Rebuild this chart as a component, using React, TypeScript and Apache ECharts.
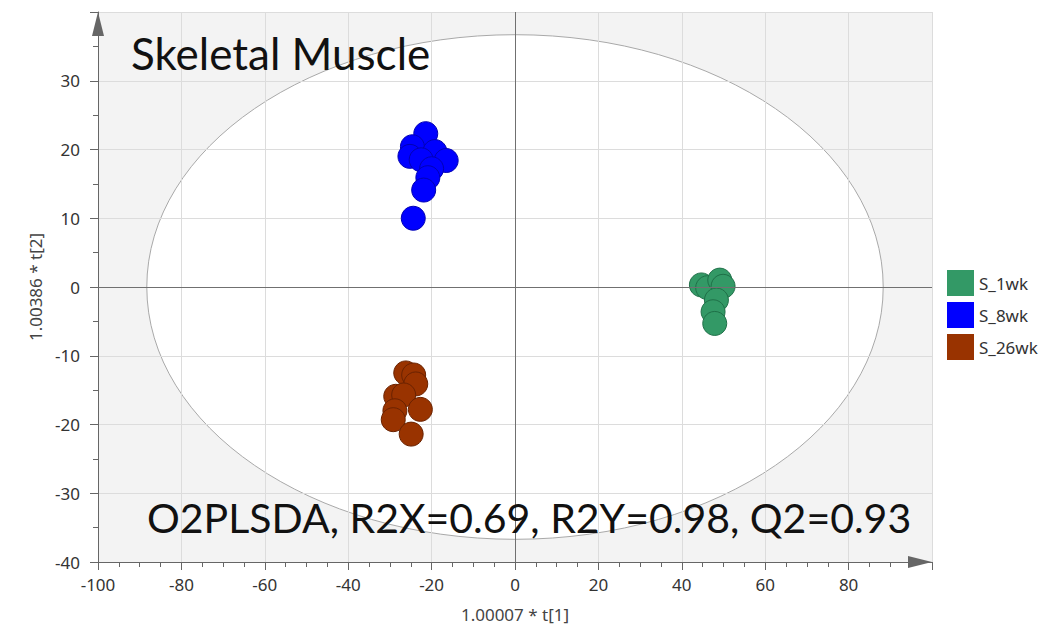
import React, { useEffect, useRef } from "react";
import * as echarts from "echarts";

// Score scatter for the skeletal muscle O2PLS-DA model
const groupNames = ["S_1wk", "S_8wk", "S_26wk"];
const groupColors = ["#339966", "#0000ff", "#993300"];
const groupBorders = ["#1f7048", "#0000b4", "#6a2200"];

const s1wk: number[][] = [
  [44.7, 0.3],
  [46.2, -0.1],
  [49.1, 1.0],
  [49.9, 0.1],
  [48.3, -1.9],
  [47.5, -3.6],
  [47.9, -5.3],
];

const s8wk: number[][] = [
  [-21.4, 22.3],
  [-24.6, 20.4],
  [-25.2, 19.0],
  [-19.2, 19.7],
  [-16.5, 18.4],
  [-22.5, 18.5],
  [-20.0, 17.2],
  [-20.9, 15.9],
  [-21.9, 14.1],
  [-24.4, 10.0],
];

const s26wk: number[][] = [
  [-26.2, -12.5],
  [-24.3, -12.8],
  [-23.8, -14.1],
  [-28.6, -15.9],
  [-26.7, -15.7],
  [-28.8, -18.0],
  [-29.2, -19.3],
  [-22.7, -17.8],
  [-24.9, -21.4],
];

// Hotelling's T2 (95%) ellipse semi-axes, in score units
const ellipseCenter = [0, 0];
const ellipseRadii = [88.3, 36.7];

const xRange = [-100, 100];
const yRange = [-40, 40];

const titleText = "Skeletal Muscle";
const statsText = "O2PLSDA, R2X=0.69, R2Y=0.98, Q2=0.93";
const xName = "1.00007 * t[1]";
const yName = "1.00386 * t[2]";

const labelFont = "'Noto Sans', 'Open Sans', sans-serif";
const bigFont = "Lato, 'Noto Sans', sans-serif";

export default function App() {
  const ref = useRef<HTMLDivElement>(null);

  useEffect(() => {
    if (!ref.current) return;
    const chart = echarts.init(ref.current, undefined, { renderer: "svg" });

    const axisLineColor = "#666666";
    const seriesData = [s1wk, s8wk, s26wk];

    chart.setOption({
      animation: false,
      backgroundColor: "#ffffff",
      grid: { left: 98, right: 113, top: 12, bottom: 66 },
      legend: {
        data: groupNames.map((n) => ({ name: n, icon: "rect" })),
        orient: "vertical",
        left: 947,
        top: 270,
        padding: 0,
        itemWidth: 27,
        itemHeight: 26,
        itemGap: 6,
        itemStyle: { borderWidth: 0 },
        textStyle: { fontFamily: labelFont, fontSize: 17, color: "#333333" },
      },
      xAxis: {
        type: "value",
        min: xRange[0],
        max: xRange[1],
        interval: 20,
        name: xName,
        nameLocation: "middle",
        nameGap: 44,
        nameTextStyle: { fontFamily: labelFont, fontSize: 17, color: "#444444" },
        axisLine: {
          onZero: false,
          lineStyle: { color: axisLineColor, width: 1 },
          symbol: ["none", "triangle"],
          symbolSize: [12, 24],
          symbolOffset: [0, -12],
        },
        axisTick: { length: 8, lineStyle: { color: axisLineColor } },
        minorTick: { show: true, splitNumber: 4, length: 5, lineStyle: { color: axisLineColor } },
        axisLabel: {
          showMaxLabel: false,
          margin: 14,
          fontFamily: labelFont,
          fontSize: 17,
          color: "#333333",
        },
        splitLine: { lineStyle: { color: "#dcdcdc", width: 1 } },
      },
      yAxis: {
        type: "value",
        min: yRange[0],
        max: yRange[1],
        interval: 10,
        name: yName,
        nameLocation: "middle",
        nameGap: 52,
        nameRotate: 90,
        nameTextStyle: { fontFamily: labelFont, fontSize: 17, color: "#444444" },
        axisLine: {
          onZero: false,
          lineStyle: { color: axisLineColor, width: 1 },
          symbol: ["none", "triangle"],
          symbolSize: [12, 24],
          symbolOffset: [0, -12],
        },
        axisTick: { length: 8, lineStyle: { color: axisLineColor } },
        minorTick: { show: true, splitNumber: 2, length: 5, lineStyle: { color: axisLineColor } },
        axisLabel: {
          showMaxLabel: false,
          margin: 18,
          fontFamily: labelFont,
          fontSize: 17,
          color: "#333333",
        },
        splitLine: { lineStyle: { color: "#dcdcdc", width: 1 } },
      },
      graphic: [
        {
          type: "text",
          x: 131,
          y: 53,
          z: 100,
          style: {
            text: titleText,
            font: `44px ${bigFont}`,
            fill: "#111111",
            textAlign: "left",
            textVerticalAlign: "middle",
          },
        },
        {
          type: "text",
          x: 147,
          y: 517,
          z: 100,
          style: {
            text: statsText,
            font: `41px ${bigFont}`,
            fill: "#111111",
            textAlign: "left",
            textVerticalAlign: "middle",
          },
        },
      ],
      series: [
        {
          // plot background with the confidence ellipse cut out in white
          type: "custom",
          name: "ellipse",
          z: -1,
          silent: true,
          data: [ellipseCenter],
          renderItem: (params: any, api: any) => {
            const cs = params.coordSys;
            const c = api.coord([api.value(0), api.value(1)]);
            const size = api.size(ellipseRadii);
            return {
              type: "group",
              children: [
                {
                  type: "rect",
                  shape: { x: cs.x, y: cs.y, width: cs.width, height: cs.height },
                  style: { fill: "#f3f3f3" },
                },
                {
                  type: "ellipse",
                  shape: { cx: c[0], cy: c[1], rx: size[0], ry: size[1] },
                  style: { fill: "#ffffff", stroke: "#a9a9a9", lineWidth: 1 },
                },
              ],
            };
          },
        },
        {
          // zero reference lines through the origin
          type: "line",
          name: "origin",
          z: 1,
          data: [],
          silent: true,
          markLine: {
            silent: true,
            symbol: ["none", "none"],
            label: { show: false },
            lineStyle: { color: "#707070", type: "solid", width: 1 },
            data: [{ xAxis: 0 }, { yAxis: 0 }],
          },
        },
        ...groupNames.map((name, i) => ({
          type: "scatter",
          name,
          z: 2,
          symbol: "circle",
          symbolSize: 24,
          data: seriesData[i],
          itemStyle: {
            color: groupColors[i],
            borderColor: groupBorders[i],
            borderWidth: 1,
            opacity: 1,
          },
        })),
      ],
    });

    return () => chart.dispose();
  }, []);

  return (
    <div
      ref={ref}
      style={{ position: "fixed", left: 0, top: 0, width: 1045, height: 628 }}
    />
  );
}
